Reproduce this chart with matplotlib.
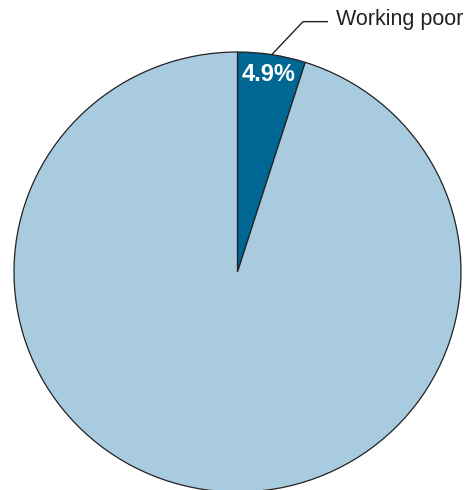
import numpy as np
import matplotlib
matplotlib.use("Agg")
import matplotlib.pyplot as plt

categories = ["Working poor", "Other"]
values = [4.9, 95.1]
colors = ["#006693", "#a8cbdf"]

fig = plt.figure(figsize=(4.67, 4.90), dpi=100)
ax = fig.add_axes([0, 0, 1, 1])

wedges, _ = ax.pie(values, colors=colors, startangle=90, counterclock=False,
                   radius=1.0, center=(0, 0),
                   wedgeprops=dict(edgecolor="#222222", linewidth=0.9))

# percent label inside the small wedge
theta1, theta2 = wedges[0].theta1, wedges[0].theta2
mid = np.deg2rad((theta1 + theta2) / 2)
r_lab = 0.91
ax.text(r_lab * np.cos(mid), r_lab * np.sin(mid), f"{values[0]:.1f}%",
        ha="center", va="center", color="white", fontsize=17, fontweight="bold",
        family=["Liberation Sans", "DejaVu Sans"])

# leader line + category label
px, py = np.cos(mid), np.sin(mid)
ex, ey = 0.293, 1.138
ax.plot([px, ex, 0.405], [py, ey, ey], color="#222222", lw=1.0, solid_capstyle="butt")
ax.text(0.44, ey + 0.012, categories[0], ha="left", va="center", fontsize=15.5,
        color="#222222", family=["Liberation Sans", "DejaVu Sans"])

ax.set_aspect("auto")
ax.set_xlim(-237.5 / 223.5, (467 - 237.5) / 223.5)
ax.set_ylim((272 - 490) / 220, 272 / 220)
ax.axis("off")

fig.savefig("out.png", dpi=100)
